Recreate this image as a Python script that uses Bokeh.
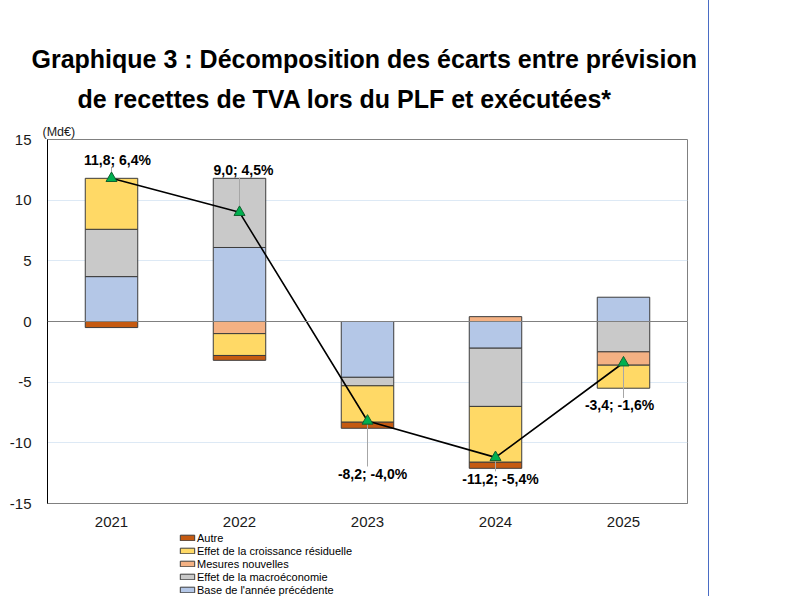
import numpy as np
from bokeh.plotting import figure
from bokeh.layouts import column
from bokeh.models import (ColumnDataSource, Legend, LegendItem, Span, Title,
                          FixedTicker, FactorRange, Range1d)
from bokeh.embed import file_html
from bokeh.resources import INLINE
from bokeh.core.properties import value

# Data (Md€)
years = ["2021", "2022", "2023", "2024", "2025"]
base_annee = [3.7, 6.1, -4.6, -2.2, 2.0]
macro = [3.9, 5.7, -0.7, -4.8, -2.5]
mesures = [0.0, -1.0, 0.0, 0.4, -1.1]
croissance = [4.2, -1.8, -3.0, -4.6, -1.9]
autre = [-0.5, -0.4, -0.5, -0.5, 0.0]
totals = [11.8, 9.0, -8.2, -11.2, -3.4]
pcts = ["6,4%", "4,5%", "-4,0%", "-5,4%", "-1,6%"]
y_ticks = [-15, -10, -5, 0, 5, 10, 15]

# label placement (data units above/below the point, px sideways)
label_dy = [1.55, 3.45, -4.35, -1.75, -3.5]
label_dx = [6, 4, 5, 5, -4]

font = "Liberation Sans"

p = figure(x_range=FactorRange(*years, range_padding=0),
           y_range=Range1d(-15, 15), title=None,
           width=708, height=531,
           min_border_left=47, min_border_right=21,
           min_border_top=139, min_border_bottom=28,
           toolbar_location=None, output_backend="svg",
           background_fill_color="white", border_fill_color="white")

# titles stack upward: first added sits closest to the frame
p.add_layout(Title(text="(Md€)", align="left", offset=-5, standoff=1,
                   text_font=font, text_font_size="12.5px", text_font_style="normal",
                   text_color="#1a1a1a"), "above")
p.add_layout(Title(text="de recettes de TVA lors du PLF et exécutées*", align="left",
                   offset=30, standoff=20, text_font=font, text_font_size="25px",
                   text_font_style="bold", text_color="black"), "above")
p.add_layout(Title(text="Graphique 3 : Décomposition des écarts entre prévision",
                   align="left", offset=-16, standoff=0, text_font=font,
                   text_font_size="25px", text_font_style="bold",
                   text_color="black"), "above")

p.outline_line_color = "#808080"
p.xgrid.grid_line_color = None
p.ygrid.grid_line_color = "#dde9f5"
p.yaxis.ticker = FixedTicker(ticks=y_ticks)
p.yaxis.major_label_overrides = {t: str(t) for t in y_ticks}
for ax in (p.xaxis, p.yaxis):
    ax.major_tick_line_color = None
    ax.minor_tick_line_color = None
    ax.major_label_text_font = font
    ax.major_label_text_font_size = "15px"
    ax.major_label_text_color = "#1a1a1a"
p.yaxis.axis_line_color = "black"
p.xaxis.axis_line_color = "#808080"
p.yaxis.major_label_standoff = 10
p.xaxis.major_label_standoff = 7

p.add_layout(Span(location=0, dimension="width", line_color="#808080", line_width=1))

series = [
    ("Base de l'année précédente", base_annee, "#b4c7e7"),
    ("Effet de la macroéconomie", macro, "#c9c9c9"),
    ("Mesures nouvelles", mesures, "#f4b183"),
    ("Effet de la croissance résiduelle", croissance, "#ffd966"),
    ("Autre", autre, "#c55a11"),
]

# legend lives in its own strip below the chart
leg = figure(width=708, height=65, x_range=Range1d(0, 1), y_range=Range1d(0, 1),
             min_border=0, toolbar_location=None, output_backend="svg",
             outline_line_color=None, border_fill_color="white")
leg.axis.visible = False
leg.grid.visible = False

pos_acc = np.zeros(len(years))
neg_acc = np.zeros(len(years))
leg_rends = {}
for name, vals, col in series:
    v = np.array(vals)
    bottom = np.where(v >= 0, pos_acc, neg_acc)
    top = bottom + v
    pos_acc = np.where(v >= 0, top, pos_acc)
    neg_acc = np.where(v < 0, top, neg_acc)
    keep = v != 0
    src = ColumnDataSource(dict(x=[y for y, k in zip(years, keep) if k],
                                bottom=bottom[keep], top=top[keep]))
    p.vbar(x="x", bottom="bottom", top="top", width=0.41, source=src,
           fill_color=col, line_color="#3c3c3c", line_width=1)
    # tiny stand-in glyph for the legend swatch, hidden under the legend box
    leg_rends[name] = leg.vbar(x=[0.3], bottom=[0.4], top=[0.6], width=0.005,
                               fill_color=col, line_color="#3c3c3c", line_width=1)

# total line + markers
p.line(years, totals, line_color="black", line_width=1.6)

# leader lines and labels
lab_y = [t + d for t, d in zip(totals, label_dy)]
lead_end = [ly - 0.6 if d > 0 else ly + 0.6 for ly, d in zip(lab_y, label_dy)]
lsrc = ColumnDataSource(dict(
    x=years, y=totals, ly=lab_y, le=lead_end, dx=label_dx,
    txt=[f"{t:.1f}".replace(".", ",") + "; " + pc for t, pc in zip(totals, pcts)]))
p.segment(x0="x", y0="y", x1="x", y1="le", source=lsrc,
          line_color="#a6a6a6", line_width=1)
p.scatter(years, totals, marker="triangle", size=11,
          fill_color="#00b050", line_color="#11602f", line_width=1)
p.text(x="x", y="ly", text="txt", x_offset="dx", source=lsrc,
       text_font=value(font), text_font_size="14px", text_font_style="bold",
       text_align="center", text_baseline="middle", text_color="black")

legend_order = ["Autre", "Effet de la croissance résiduelle", "Mesures nouvelles",
                "Effet de la macroéconomie", "Base de l'année précédente"]
legend = Legend(items=[LegendItem(label=n, renderers=[leg_rends[n]]) for n in legend_order],
                location=(131, 0), orientation="vertical",
                label_text_font=font, label_text_font_size="11px",
                label_text_color="black", label_height=13, label_standoff=1,
                glyph_height=7, glyph_width=18, spacing=0, padding=0, margin=0,
                border_line_color=None, background_fill_color="white",
                background_fill_alpha=1)
leg.add_layout(legend)

layout = column(p, leg, spacing=0, styles={"border-right": "1px solid #4a6cc4"})
open("out.html", "w").write(file_html(layout, INLINE))
